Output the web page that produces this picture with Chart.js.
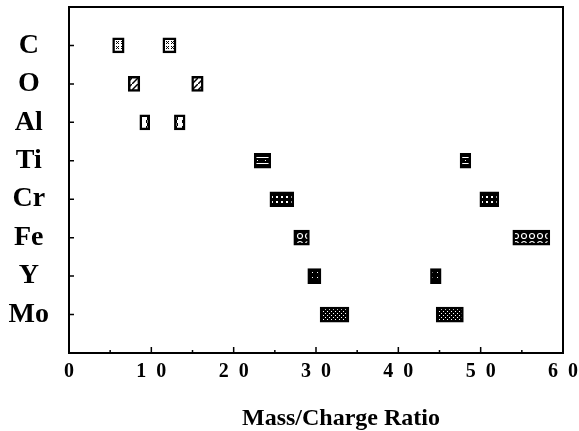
<!DOCTYPE html>
<html>
<head>
<meta charset="utf-8">
<script src="https://cdn.jsdelivr.net/npm/chart.js@4.4.1/dist/chart.umd.min.js"></script>
<style>
  html, body { margin: 0; padding: 0; background: #fff; }
  #wrap { width: 579px; height: 431px; }
</style>
</head>
<body>
<div id="wrap"><canvas id="c" width="579" height="431"></canvas></div>
<script>
// ---- data ----
const elements = ['C', 'O', 'Al', 'Ti', 'Cr', 'Fe', 'Y', 'Mo'];
// left box of each row (start, end of mass/charge range)
const leftStart  = [5.3, 7.2, 8.6, 22.5, 24.4, 27.3, 29.0, 30.5];
const leftEnd    = [6.7, 8.6, 9.8, 24.5, 27.3, 29.2, 30.6, 34.0];
// right box of each row
const rightStart = [11.4, 14.9, 12.8, 47.5, 49.9, 53.9, 43.9, 44.6];
const rightEnd   = [13.0, 16.3, 14.1, 48.8, 52.2, 58.4, 45.2, 47.9];
const xTicks = [0, 10, 20, 30, 40, 50, 60];
const xTitle = 'Mass/Charge Ratio';

// ---- styles ----
const canvas = document.getElementById('c');
const mainCtx = canvas.getContext('2d');
function makePattern(w, h, bg, fg, draw) {
  const c = document.createElement('canvas');
  c.width = w; c.height = h;
  const g = c.getContext('2d');
  g.fillStyle = bg; g.fillRect(0, 0, w, h);
  g.fillStyle = fg; g.strokeStyle = fg;
  draw(g);
  return mainCtx.createPattern(c, 'repeat');
}
const patterns = [
  makePattern(5, 5, '#fff', '#000', g => { [[1,1],[3,1],[2,2],[1,3],[3,3]].forEach(p => g.fillRect(p[0], p[1], 1, 1)); }),
  makePattern(6, 6, '#fff', '#000', g => { g.lineWidth = 1.5; g.beginPath(); g.moveTo(0, 6); g.lineTo(6, 0); g.stroke(); }),
  makePattern(6, 6, '#fff', '#000', g => { g.fillRect(2, 0, 1, 3); g.fillRect(3, 3, 1, 3); }),
  makePattern(8, 6, '#000', '#fff', g => { g.fillRect(0, 1, 8, 1); g.fillRect(1, 4, 1, 1); }),
  makePattern(5, 5, '#000', '#fff', g => { g.fillRect(1, 1, 2, 2); }),
  makePattern(8, 8, '#000', '#fff', g => { g.lineWidth = 1.2; g.beginPath(); g.arc(4, 4, 2.5, 0, Math.PI * 2); g.stroke(); }),
  makePattern(5, 5, '#000', '#fff', g => { g.fillRect(2, 2, 1, 1); }),
  makePattern(4, 4, '#000', '#fff', g => { g.fillRect(1, 1, 1, 1); g.fillRect(3, 3, 1, 1); })
];

const labels = [''].concat(elements, ['']);
function rows(starts, ends) {
  return [null].concat(elements.map((e, i) => [starts[i], ends[i]]), [null]);
}
const bg = [null].concat(patterns, [null]);

const serif = "'Liberation Serif', 'Times New Roman', serif";

const framePlugin = {
  id: 'framePlugin',
  afterDraw(chart) {
    const { ctx, chartArea: a, scales } = chart;
    const x = scales.x, y = scales.y;
    ctx.save();
    ctx.strokeStyle = '#000';
    ctx.lineWidth = 2;
    ctx.strokeRect(a.left, a.top, a.right - a.left, a.bottom - a.top);
    ctx.lineWidth = 1.5;
    ctx.beginPath();
    for (let v = 5; v < 60; v += 5) {
      const px = x.getPixelForValue(v);
      const len = v % 10 === 0 ? 6 : 3;
      ctx.moveTo(px, a.bottom);
      ctx.lineTo(px, a.bottom - len);
    }
    for (let i = 1; i <= elements.length; i++) {
      const py = y.getPixelForValue(i);
      ctx.moveTo(a.left, py);
      ctx.lineTo(a.left + 5, py);
    }
    ctx.stroke();
    ctx.fillStyle = '#000';
    ctx.font = 'bold 24px ' + serif;
    ctx.textAlign = 'center';
    ctx.textBaseline = 'alphabetic';
    ctx.fillText(xTitle, (a.left + a.right) / 2 + 25, 425);
    ctx.restore();
  }
};

new Chart(canvas, {
  type: 'bar',
  data: {
    labels: labels,
    datasets: [
      { data: rows(leftStart, leftEnd), backgroundColor: bg, borderColor: '#000', borderWidth: 2.5, borderSkipped: false, grouped: false, barThickness: 15 },
      { data: rows(rightStart, rightEnd), backgroundColor: bg, borderColor: '#000', borderWidth: 2.5, borderSkipped: false, grouped: false, barThickness: 15 }
    ]
  },
  options: {
    indexAxis: 'y',
    responsive: false,
    animation: false,
    devicePixelRatio: 1,
    layout: { padding: { left: 0, right: 16, top: 7, bottom: 0 } },
    plugins: { legend: { display: false }, tooltip: { enabled: false }, title: { display: false } },
    scales: {
      x: {
        type: 'linear', min: 0, max: 60,
        grid: { display: false, drawTicks: false },
        border: { display: false },
        afterBuildTicks: s => { s.ticks = xTicks.map(v => ({ value: v })); },
        afterFit: s => { s.height = 78; s.paddingLeft = 0; s.paddingRight = 0; },
        ticks: {
          color: '#000', padding: 7,
          font: { family: serif, size: 20, weight: 'bold' },
          callback: v => String(v).split('').join('\u2002')
        }
      },
      y: {
        type: 'category', offset: false,
        grid: { display: false, drawTicks: false },
        border: { display: false },
        afterBuildTicks: s => { s.ticks = elements.map((e, i) => ({ value: i + 1 })); },
        afterFit: s => { s.width = 69; s.paddingTop = 0; s.paddingBottom = 0; },
        ticks: {
          color: '#000', padding: 20, crossAlign: 'center', autoSkip: false,
          font: { family: serif, size: 28, weight: 'bold' }
        }
      }
    }
  },
  plugins: [framePlugin]
});
</script>
</body>
</html>
